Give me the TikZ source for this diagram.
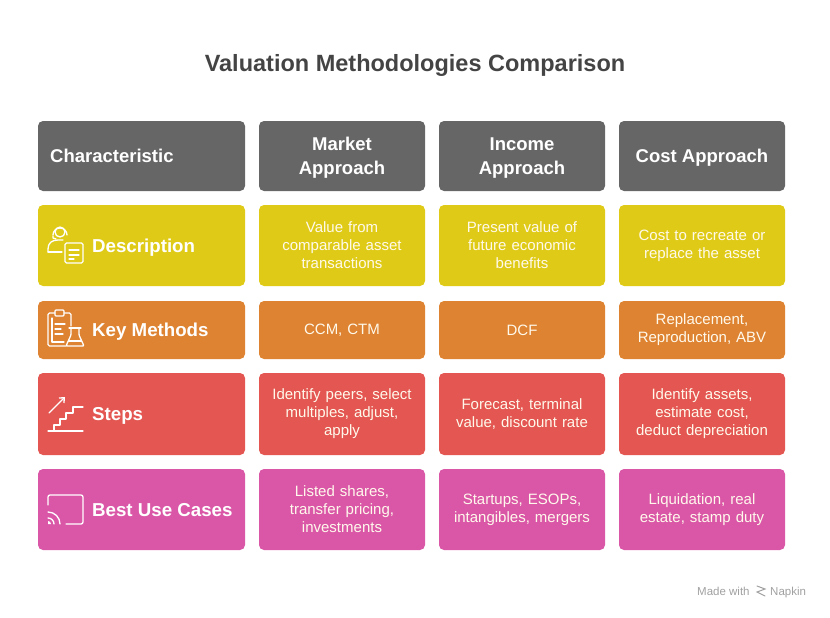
\documentclass[tikz,border=0pt]{standalone}
\usepackage{fontspec}
\setmainfont{Liberation Sans}
\usetikzlibrary{arrows.meta}
\definecolor{HeadGray}{HTML}{666666}
\definecolor{DescYellow}{HTML}{DFCB17}
\definecolor{MethOrange}{HTML}{DD8331}
\definecolor{StepRed}{HTML}{E35651}
\definecolor{UsePink}{HTML}{DA57A7}
\definecolor{TitleGray}{HTML}{444444}
\definecolor{CellText}{HTML}{FFF9EC}
\definecolor{MarkGray}{HTML}{A0A0A0}

\begin{document}
\begin{tikzpicture}[
  x=1pt, y=-1pt,
  box/.style={rounded corners=5pt, inner sep=0pt, align=center},
  headbox/.style={box, fill=HeadGray, text=white, minimum height=70pt, text depth=0pt,
    font=\fontsize{18.5}{24}\selectfont\bfseries},
  cellbox/.style={box, text=CellText, text width=150pt, minimum width=166pt,
    font=\fontsize{15}{18}\selectfont},
  rowtext/.style={anchor=base west, inner sep=0pt, text=white,
    font=\fontsize{18.7}{22}\selectfont\bfseries},
  icon/.style={draw=white, line width=1.3pt, line cap=round, line join=round}
]
\useasboundingbox (0,0) rectangle (830,618);

\node[anchor=base, text=TitleGray, font=\fontsize{23.5}{28}\selectfont\bfseries]
  (title) at (415,72) {Valuation Methodologies Comparison};

% header row
\node[headbox, minimum width=207pt] (head-char) at (141.5,156) {};
\node[anchor=west, inner sep=0pt, text=white, font=\fontsize{18.5}{24}\selectfont\bfseries]
  (head-char-text) at (50,156) {Characteristic};
\node[headbox, minimum width=166pt] (head-mkt) at (342,156) {Market\\Approach};
\node[headbox, minimum width=166pt] (head-inc) at (522,156) {Income\\Approach};
\node[headbox, minimum width=166pt] (head-cost) at (702,156) {Cost Approach};

% body rows
\foreach \key/\yc/\h/\fillc/\rowname/\mkt/\inc/\cost in {
  desc/245.5/81/DescYellow/Description/{Value from\\comparable asset\\transactions}/{Present value of\\future economic\\benefits}/{Cost to recreate or\\replace the asset},
  meth/330/58/MethOrange/Key Methods/{CCM, CTM}/{DCF}/{Replacement,\\Reproduction, ABV},
  steps/414/82/StepRed/Steps/{Identify peers, select\\multiples, adjust,\\apply}/{Forecast, terminal\\value, discount rate}/{Identify assets,\\estimate cost,\\deduct depreciation},
  use/509.5/81/UsePink/Best Use Cases/{Listed shares,\\transfer pricing,\\investments}/{Startups, ESOPs,\\intangibles, mergers}/{Liquidation, real\\estate, stamp duty}}{
  \node[box, fill=\fillc, minimum width=207pt, minimum height=\h pt] (\key-label) at (141.5,\yc) {};
  \node[rowtext] (\key-text) at (92,\yc+6.7) {\rowname};
  \node[cellbox, fill=\fillc, minimum height=\h pt] (\key-mkt) at (342,\yc) {\mkt};
  \node[cellbox, fill=\fillc, minimum height=\h pt] (\key-inc) at (522,\yc) {\inc};
  \node[cellbox, fill=\fillc, minimum height=\h pt] (\key-cost) at (702,\yc) {\cost};
}

% icon: description
\draw[icon] (60,232) circle [radius=5];
\draw[icon] (53,235) arc[start angle=180, end angle=360, radius=7];
\draw[icon] (53,236) -- (53,238) -- (56,239);
\draw[icon] (48,252) -- (48,249) .. controls (48,243) and (52,240) .. (58,240) -- (63,240);
\draw[icon] (48,252) -- (62,252);
\draw[icon, rounded corners=1.5pt] (65,243) rectangle (83,263);
\draw[icon] (69,250) -- (79,250) (69,255) -- (79,255) (69,259) -- (74,259);

% icon: key methods
\draw[icon, rounded corners=1.5pt] (66,346) -- (48,346) -- (48,313) -- (55,313);
\draw[icon, rounded corners=1.5pt] (64,313) -- (71,313) -- (71,326);
\draw[icon, rounded corners=1pt] (55,310) rectangle (64,316);
\draw[icon] (52,318) -- (52,342) -- (64,342);
\draw[icon] (55,324) -- (65,324) (55,329) -- (61,329) (55,334) -- (63,334);
\draw[icon] (69,328) -- (81,328);
\draw[icon, rounded corners=1pt] (71,328) -- (71,335) -- (66,346) -- (84,346) -- (79,335) -- (79,328);
\draw[icon] (68.5,341) -- (81.5,341);

% icon: steps
\draw[icon] (48,431) -- (83,431);
\draw[icon] (54,431) -- (54,425) -- (60,425) -- (60,419) -- (66,419) -- (66,413)
  -- (73,413) -- (73,407) -- (83,407);
\draw[icon, -{Straight Barb[length=4pt, width=7pt]}] (49,413) -- (65,397);

% icon: best use cases
\draw[icon, rounded corners=2pt] (48,505) -- (48,495) -- (83,495) -- (83,524) -- (66,524);
\draw[icon] (48,512) arc[start angle=-90, end angle=0, radius=12];
\draw[icon] (48,518) arc[start angle=-90, end angle=0, radius=6];
\fill[white] (48,524) -- (48,521) arc[start angle=-90, end angle=0, radius=3] -- cycle;

% watermark
\node[anchor=base west, inner sep=0pt, text=MarkGray, font=\fontsize{11.5}{13}\selectfont]
  (made) at (697,595) {Made with};
\node[anchor=base west, inner sep=0pt, text=MarkGray, font=\fontsize{11.5}{13}\selectfont]
  (napkin) at (770,595) {Napkin};
\draw[MarkGray, line width=1pt, line cap=round] (757,586) -- (765,589) -- (757,592) -- (765,596);
\end{tikzpicture}
\end{document}
